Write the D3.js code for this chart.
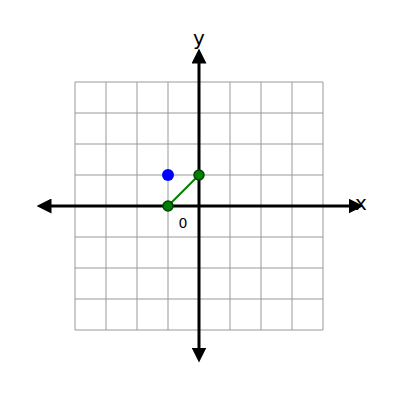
<!DOCTYPE html>
<html><head><meta charset="utf-8">
<script src="https://cdn.jsdelivr.net/npm/d3@7"></script>
<style>body{margin:0;background:#fff}</style>
</head><body><div id="chart"></div>
<script>
const gridTicks = [-4, -3, -2, -1, 0, 1, 2, 3, 4];
const bluePoints = [[-1, 1]];
const greenPoints = [[-1, 0], [0, 1]];
const originLabel = "0";

const svg = d3.select("#chart").append("svg").attr("width", 400).attr("height", 400);
const x = d3.scaleLinear().domain([-4, 4]).range([75, 323]);
const y = d3.scaleLinear().domain([-4, 4]).range([330, 82]);

// grid
svg.append("g").selectAll("line.v").data(gridTicks).join("line")
    .attr("x1", d => x(d)).attr("x2", d => x(d)).attr("y1", y(-4)).attr("y2", y(4))
    .attr("stroke", "#999").attr("stroke-width", 1);
svg.append("g").selectAll("line.h").data(gridTicks).join("line")
    .attr("y1", d => y(d)).attr("y2", d => y(d)).attr("x1", x(-4)).attr("x2", x(4))
    .attr("stroke", "#999").attr("stroke-width", 1);

// arrowheads
const defs = svg.append("defs");
defs.append("marker").attr("id", "arr").attr("viewBox", "0 0 10 10")
    .attr("refX", 5).attr("refY", 5).attr("markerWidth", 5).attr("markerHeight", 5)
    .attr("orient", "auto-start-reverse").attr("markerUnits", "strokeWidth")
    .append("path").attr("d", "M0,0 L10,5 L0,10 z").attr("fill", "#000");

svg.append("line").attr("x1", 44).attr("x2", 356).attr("y1", y(0)).attr("y2", y(0))
    .attr("stroke", "#000").attr("stroke-width", 3)
    .attr("marker-start", "url(#arr)").attr("marker-end", "url(#arr)");
svg.append("line").attr("x1", x(0)).attr("x2", x(0)).attr("y1", 56).attr("y2", 355)
    .attr("stroke", "#000").attr("stroke-width", 3)
    .attr("marker-start", "url(#arr)").attr("marker-end", "url(#arr)");

svg.append("text").attr("x", 355).attr("y", 210).text("x")
    .style("font-family", "DejaVu Sans").style("font-size", "20px");
svg.append("text").attr("x", x(0)).attr("y", 45).attr("text-anchor", "middle").text("y")
    .style("font-family", "DejaVu Sans").style("font-size", "20px");
svg.append("text").attr("x", x(0) - 16).attr("y", 228).attr("text-anchor", "middle").text(originLabel)
    .style("font-family", "DejaVu Sans").style("font-size", "14px");

// green segment
svg.append("path").datum(greenPoints)
    .attr("d", d3.line().x(d => x(d[0])).y(d => y(d[1])))
    .attr("stroke", "green").attr("stroke-width", 2).attr("fill", "none");

svg.selectAll("circle.g").data(greenPoints).join("circle")
    .attr("cx", d => x(d[0])).attr("cy", d => y(d[1])).attr("r", 5)
    .attr("fill", "green").attr("stroke", "#004400").attr("stroke-width", 1.5);
svg.selectAll("circle.b").data(bluePoints).join("circle")
    .attr("cx", d => x(d[0])).attr("cy", d => y(d[1])).attr("r", 6)
    .attr("fill", "#0000ff");
</script></body></html>
